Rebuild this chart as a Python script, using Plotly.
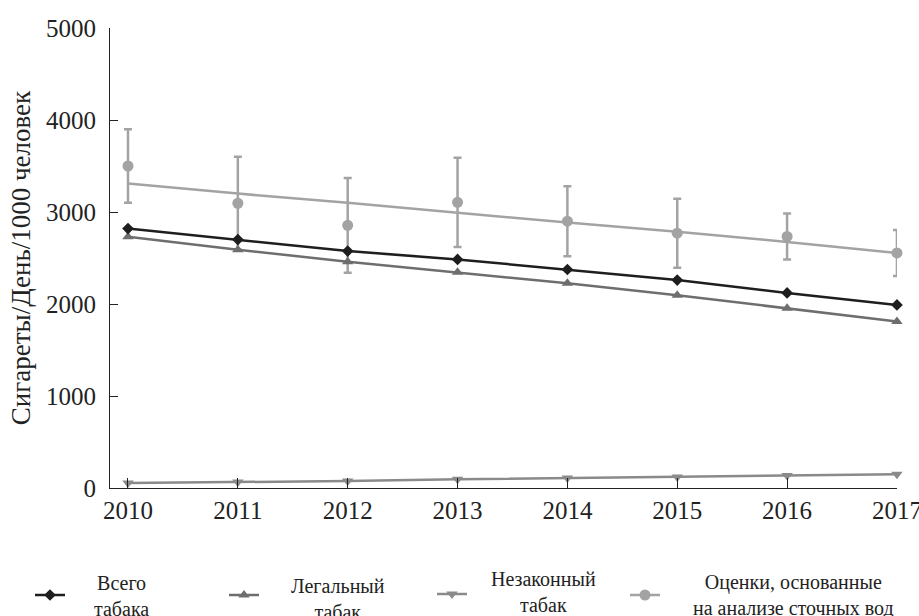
import plotly.graph_objects as go

years = [2010, 2011, 2012, 2013, 2014, 2015, 2016, 2017]
total_tobacco = [2820, 2700, 2575, 2485, 2375, 2260, 2120, 1990]
legal_tobacco = [2730, 2590, 2460, 2345, 2225, 2095, 1955, 1810]
illegal_tobacco = [55, 65, 75, 95, 110, 120, 135, 150]
wastewater_est = [3500, 3095, 2855, 3105, 2900, 2770, 2735, 2555]
wastewater_err = [400, 505, 515, 485, 380, 375, 250, 250]
wastewater_trend = [3310, 3200, 3100, 2990, 2885, 2785, 2675, 2555]

y_ticks = [0, 1000, 2000, 3000, 4000, 5000]
y_title = "Сигареты/День/1000 человек"
legend_labels = ["Всего<br>табака", "Легальный<br>табак", "Незаконный<br>табак",
                 "Оценки, основанные<br>на анализе сточных вод"]

C_TOTAL = "#1e1e1e"
C_LEGAL = "#6e6e6e"
C_ILLEGAL = "#8a8a8a"
C_EST = "#a3a3a3"
FONT = "Times New Roman, Liberation Serif, serif"
TXT = "#222222"

fig = go.Figure()

fig.add_trace(go.Scatter(
    x=years, y=wastewater_trend, mode="lines",
    line=dict(color=C_EST, width=2.5), showlegend=False, cliponaxis=False))
fig.add_trace(go.Scatter(
    x=years, y=wastewater_est, mode="markers",
    marker=dict(symbol="circle", size=11, color=C_EST),
    error_y=dict(type="data", array=wastewater_err, color=C_EST, thickness=2.5, width=4),
    showlegend=False, cliponaxis=False))
fig.add_trace(go.Scatter(
    x=years, y=illegal_tobacco, mode="lines+markers",
    line=dict(color=C_ILLEGAL, width=2.5),
    marker=dict(symbol="triangle-down", size=10, color=C_ILLEGAL),
    showlegend=False, cliponaxis=False))
fig.add_trace(go.Scatter(
    x=years, y=legal_tobacco, mode="lines+markers",
    line=dict(color=C_LEGAL, width=2.5),
    marker=dict(symbol="triangle-up", size=10, color=C_LEGAL),
    showlegend=False, cliponaxis=False))
fig.add_trace(go.Scatter(
    x=years, y=total_tobacco, mode="lines+markers",
    line=dict(color=C_TOTAL, width=2.5),
    marker=dict(symbol="diamond", size=9, color=C_TOTAL),
    showlegend=False, cliponaxis=False))

legend_specs = [
    (C_TOTAL, "diamond", 9, "legend"),
    (C_LEGAL, "triangle-up", 10, "legend2"),
    (C_ILLEGAL, "triangle-down", 10, "legend3"),
    (C_EST, "circle", 11, "legend4"),
]
for (c, sym, sz, lg) in legend_specs:
    fig.add_trace(go.Scatter(
        x=[None], y=[None], mode="lines+markers", name=" ",
        line=dict(color=c, width=2.5), marker=dict(symbol=sym, size=sz, color=c),
        legend=lg, showlegend=True))

W, H = 919, 616
L, R, T, B = 110, 22, 28, 616 - 488
pw, ph = W - L - R, H - T - B

def px_to_paper_x(px):
    return (px - L) / pw

def py_to_paper_y(py):
    return (H - B - py) / ph

legend_marker_x = [48, 242, 450, 643]
legend_y = [595, 595, 594, 595]
leg_common = dict(orientation="h", yanchor="middle", xanchor="left",
                  bgcolor="rgba(0,0,0,0)", borderwidth=0, font=dict(size=2, family=FONT),
                  itemwidth=30)
legs = {}
for i, name in enumerate(["legend", "legend2", "legend3", "legend4"]):
    legs[name] = dict(x=px_to_paper_x(legend_marker_x[i] - 18),
                      y=py_to_paper_y(legend_y[i]), **leg_common)
fig.update_layout(**legs)

label_pos = [(121, 596), (338, 599), (543, 592), (793, 595)]
for text, (lx, ly) in zip(legend_labels, label_pos):
    fig.add_annotation(
        x=px_to_paper_x(lx), y=py_to_paper_y(ly), xref="paper", yref="paper",
        text=text, showarrow=False, align="center", xanchor="center", yanchor="middle",
        font=dict(family=FONT, size=20, color=TXT))

fig.update_layout(
    width=W, height=H,
    margin=dict(l=L, r=R, t=T, b=B, autoexpand=False),
    plot_bgcolor="white", paper_bgcolor="white",
    font=dict(family=FONT, color=TXT),
    xaxis=dict(
        range=[2010 - 18 / 109.9, 2017.0005], tickvals=years, ticktext=[str(y) for y in years],
        showgrid=False, zeroline=False, showline=True, linecolor=TXT, linewidth=1.2,
        ticks="inside", ticklen=10, tickcolor=TXT, tickwidth=1.2,
        ticklabeloverflow="allow", ticklabelstandoff=0,
        tickfont=dict(family=FONT, size=25, color=TXT),
    ),
    yaxis=dict(
        range=[0, 5000], tickvals=y_ticks, showgrid=False, zeroline=False,
        showline=True, linecolor=TXT, linewidth=1.2,
        ticks="inside", ticklen=8, tickcolor=TXT, tickwidth=1.2,
        ticklabelstandoff=8,
        tickfont=dict(family=FONT, size=25, color=TXT),
        title=dict(text=y_title, font=dict(family=FONT, size=27, color=TXT), standoff=7),
    ),
)

fig.write_html(
    "out.html",
    config={"displayModeBar": False},
    post_script="document.body.style.margin='0';document.body.style.overflow='hidden';",
)
